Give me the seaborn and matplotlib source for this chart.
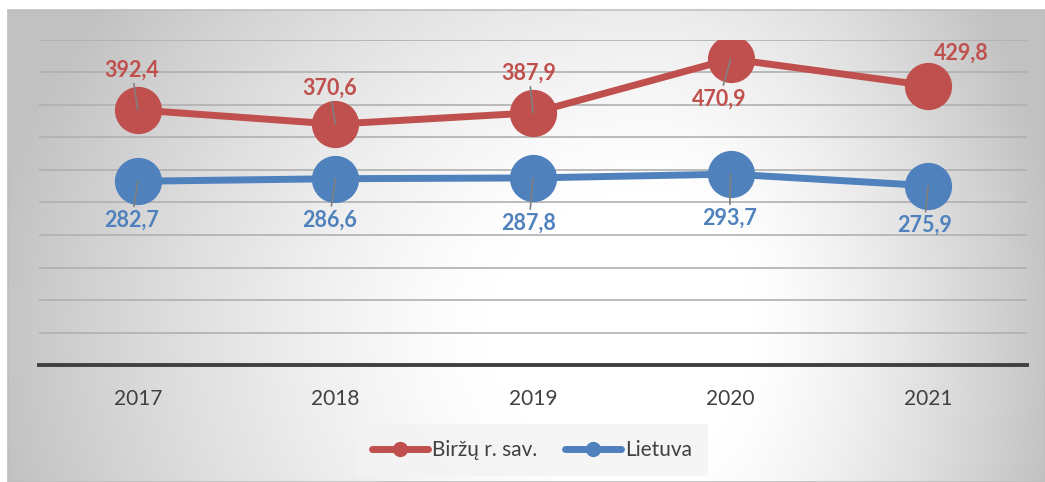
import numpy as np
import pandas as pd
import matplotlib
matplotlib.use("Agg")
import matplotlib.pyplot as plt
from matplotlib.lines import Line2D
from matplotlib.patches import Rectangle
import seaborn as sns

# Data
years = ["2017", "2018", "2019", "2020", "2021"]
birzai = [392.4, 370.6, 387.9, 470.9, 429.8]
lietuva = [282.7, 286.6, 287.8, 293.7, 275.9]
series_names = ["Biržų r. sav.", "Lietuva"]
series_colors = ["#C0504D", "#4F81BD"]

# Label offsets (pixels) from each point, and whether a leader line is drawn
birzai_offsets = [(-6, 40), (-6, 36), (-4, 40), (-11, -40), (33, 32)]
lietuva_offsets = [(-6, -39), (-6, -41), (-4, -45), (-1, -44), (-4, -40)]
birzai_leaders = [True, True, True, True, False]
lietuva_leaders = [True, True, True, True, True]

df = pd.DataFrame({
    "year": years * 2,
    "value": birzai + lietuva,
    "series": [series_names[0]] * len(years) + [series_names[1]] * len(years),
})

sns.set_theme(style="white")
plt.rcParams["font.family"] = ["Lato", "DejaVu Sans"]

W, H = 1045, 482
fig = plt.figure(figsize=(W / 100, H / 100), dpi=100)
fig.patch.set_facecolor("white")

# Chart-area background: radial gradient, white centre fading to grey edges
bx0, by0 = 8, 10
bg = fig.add_axes([bx0 / W, 0, (W - bx0) / W, (H - by0) / H])
xs = np.arange(bx0, W)
ys = np.arange(by0, H)
X, Y = np.meshgrid(xs, ys)
cx, cy = 650, 330
rx = np.where(X < cx, 650.0, 400.0)
ry = 560.0
r = np.sqrt(((X - cx) / rx) ** 2 + ((Y - cy) / ry) ** 2)
t = np.clip((r - 0.25) / 0.78, 0, 1)
val = 255 - 62 * t ** 1.3
img = np.dstack([val, val, val]) / 255.0
bg.imshow(img, aspect="auto", extent=(0, 1, 0, 1), interpolation="bilinear")
bg.add_patch(Rectangle((0, 0), 1, 1, transform=bg.transAxes, fill=False,
                       edgecolor="#bfbfbf", linewidth=1.2, clip_on=False))
bg.set_axis_off()

# Plot area
ax_left, ax_right = 39, 1027
ax_top, ax_bottom = 40, 365
ax = fig.add_axes([ax_left / W, (H - ax_bottom) / H,
                   (ax_right - ax_left) / W, (ax_bottom - ax_top) / H])
ax.set_facecolor("none")

sns.lineplot(data=df, x="year", y="value", hue="series", palette=series_colors,
             marker="o", markersize=34, markeredgewidth=0, linewidth=5,
             legend=False, ax=ax, zorder=3)

ax.set_xlim(-0.5, len(years) - 0.5)
ax.set_ylim(0, 500)
ax.set_yticks(np.arange(0, 501, 50))
ax.yaxis.grid(True, color="#b0b0b0", linewidth=1.2)
ax.set_axisbelow(True)
ax.set_yticklabels([])
ax.tick_params(axis="y", length=0)
ax.tick_params(axis="x", length=0, pad=17, labelsize=15, labelcolor="#404040")
ax.set_xlabel("")
ax.set_ylabel("")
for side in ["top", "left", "right"]:
    ax.spines[side].set_visible(False)
ax.spines["bottom"].set_color("#404040")
ax.spines["bottom"].set_linewidth(2.8)
ax.spines["bottom"].set_zorder(4)

# Data labels with leader lines
for vals, offs, leaders, col in [
        (birzai, birzai_offsets, birzai_leaders, series_colors[0]),
        (lietuva, lietuva_offsets, lietuva_leaders, series_colors[1])]:
    for i, (v, (dx, dy), lead) in enumerate(zip(vals, offs, leaders)):
        arrow = (dict(arrowstyle="-", color="#7f7f7f", lw=1.2,
                      shrinkA=0, shrinkB=0) if lead else None)
        ax.annotate(f"{v:.1f}".replace(".", ","), xy=(i, v),
                    xytext=(dx, dy), textcoords="offset pixels",
                    ha="center", va="center", fontsize=15.5, fontweight="bold",
                    color=col, zorder=6, arrowprops=arrow)

# Legend
handles = [Line2D([0], [0], color=c, lw=5, marker="o", markersize=11,
                  markeredgewidth=0) for c in series_colors]
leg = fig.legend(handles, series_names, loc="center",
                 bbox_to_anchor=(532 / W, (H - 450) / H), ncol=2,
                 frameon=True, fontsize=15, handlelength=2.7,
                 handletextpad=0.2, columnspacing=1.3, borderpad=0.75,
                 fancybox=False)
leg.get_frame().set_facecolor("#f3f3f3")
leg.get_frame().set_edgecolor("none")
for t_ in leg.get_texts():
    t_.set_color("#404040")

fig.savefig("out.png", dpi=100)
